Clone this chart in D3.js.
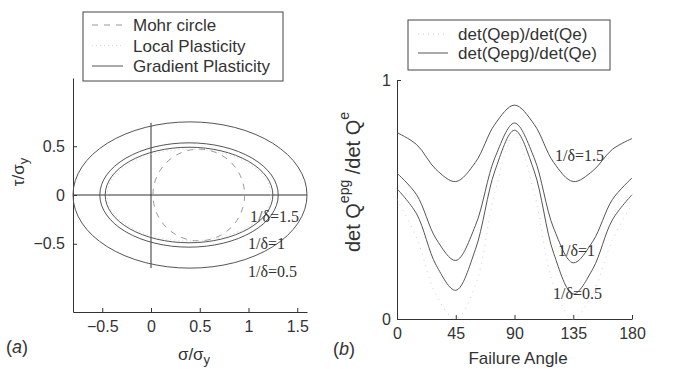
<!DOCTYPE html>
<html>
<head>
<meta charset="utf-8">
<script src="https://cdn.jsdelivr.net/npm/d3@7"></script>
<style>
  body { margin: 0; background: #fff; }
  svg { display: block; font-family: "Liberation Sans", Arial, sans-serif; }
  .axis path, .axis line { stroke: #333; }
  .axis text { fill: #333; font-size: 16px; font-family: "Liberation Sans", Arial, sans-serif; }
</style>
</head>
<body>
<div id="chart"></div>
<script>
// ---- panel (a): yield surfaces in stress space ----
const ellipseLabels = ["1/δ=0.5", "1/δ=1", "1/δ=1.5"];
const ellipseCx = [0.40, 0.39, 0.39];
const ellipseRx = [1.20, 0.915, 0.86];
const ellipseRy = [0.75, 0.535, 0.49];
const localCx = 0.39, localRx = 0.84, localRy = 0.47;
const mohrCx = 0.49, mohrR = 0.47;
const sigmaTicks = [-0.5, 0, 0.5, 1, 1.5];
const tauTicks = [-0.5, 0, 0.5];
const sigmaDomain = [-0.8, 1.6];
const tauDomain = [-1.2, 1.2];
const legendA = ["Mohr circle", "Local Plasticity", "Gradient Plasticity"];

// ---- panel (b): determinant ratio vs failure angle ----
const angles = [0, 15, 30, 45, 60, 75, 90, 105, 120, 135, 150, 165, 180];
const detLocal = [0.50, 0.34, 0.10, 0.00, 0.14, 0.53, 0.77, 0.53, 0.14, 0.00, 0.11, 0.33, 0.48];
const detGrad05 = [0.545, 0.44, 0.225, 0.12, 0.29, 0.62, 0.79, 0.62, 0.275, 0.105, 0.21, 0.415, 0.52];
const detGrad1 = [0.61, 0.52, 0.335, 0.245, 0.39, 0.675, 0.82, 0.675, 0.38, 0.235, 0.325, 0.50, 0.59];
const detGrad15 = [0.78, 0.73, 0.625, 0.575, 0.655, 0.815, 0.895, 0.815, 0.655, 0.575, 0.62, 0.71, 0.755];
const angleTicks = [0, 45, 90, 135, 180];
const detTicks = [0, 1];
const legendB = ["det(Qep)/det(Qe)", "det(Qepg)/det(Qe)"];

const W = 677, H = 369;
const curveColor = "#555";
const fmt = d => d === 0 ? "0" : d3.format("")(d).replace("-", "\u2212");

const svg = d3.select("#chart").append("svg")
    .attr("width", W)
    .attr("height", H);

// ================= panel (a) =================
const xa = d3.scaleLinear().domain(sigmaDomain).range([73, 307]);
const ya = d3.scaleLinear().domain(tauDomain).range([312, 78]);

const ga = svg.append("g");

// axes (left + bottom only, ticks pointing inward)
ga.append("g")
    .attr("class", "axis")
    .attr("transform", "translate(" + xa.range()[0] + ",0)")
    .call(d3.axisLeft(ya).tickValues(tauTicks).tickSizeInner(-4).tickSizeOuter(0).tickPadding(8)
        .tickFormat(fmt));

ga.append("g")
    .attr("class", "axis")
    .attr("transform", "translate(0," + ya.range()[0] + ")")
    .call(d3.axisBottom(xa).tickValues(sigmaTicks).tickSizeInner(-4).tickSizeOuter(0).tickPadding(9)
        .tickFormat(fmt));

// cross lines through the origin
ga.append("line")
    .attr("x1", xa(sigmaDomain[0])).attr("x2", xa(sigmaDomain[1]))
    .attr("y1", ya(0)).attr("y2", ya(0))
    .attr("stroke", "#333").attr("stroke-width", 1);
ga.append("line")
    .attr("x1", xa(0)).attr("x2", xa(0))
    .attr("y1", ya(0.74)).attr("y2", ya(-0.75))
    .attr("stroke", "#333").attr("stroke-width", 1);

// Mohr circle (dashed)
ga.append("ellipse")
    .attr("cx", xa(mohrCx)).attr("cy", ya(0))
    .attr("rx", xa(mohrCx + mohrR) - xa(mohrCx))
    .attr("ry", ya(0) - ya(mohrR))
    .attr("fill", "none")
    .attr("stroke", "#999")
    .attr("stroke-width", 1)
    .attr("stroke-dasharray", "6,6");

// local plasticity (faint dotted)
ga.append("ellipse")
    .attr("cx", xa(localCx)).attr("cy", ya(0))
    .attr("rx", xa(localCx + localRx) - xa(localCx))
    .attr("ry", ya(0) - ya(localRy))
    .attr("fill", "none")
    .attr("stroke", "#d0d0d0")
    .attr("stroke-width", 1)
    .attr("stroke-dasharray", "1,3");

// gradient plasticity ellipses
ga.selectAll(".ell")
    .data(ellipseLabels.map((l, i) => ({label: l, cx: ellipseCx[i], rx: ellipseRx[i], ry: ellipseRy[i]})))
    .enter().append("ellipse")
    .attr("class", "ell")
    .attr("cx", d => xa(d.cx)).attr("cy", ya(0))
    .attr("rx", d => xa(d.cx + d.rx) - xa(d.cx))
    .attr("ry", d => ya(0) - ya(d.ry))
    .attr("fill", "none")
    .attr("stroke", curveColor)
    .attr("stroke-width", 1);

// curve labels (a)
const labelPosA = [[248, 277], [248, 249], [250, 222]];
ellipseLabels.forEach((l, i) => {
    ga.append("text")
        .attr("x", labelPosA[i][0]).attr("y", labelPosA[i][1])
        .style("font-family", "'Liberation Serif', 'Times New Roman', serif")
        .style("font-size", "16px")
        .style("fill", "#333")
        .text(l);
});

// axis labels (a)
ga.append("text")
    .attr("transform", "translate(24,172) rotate(-90)")
    .style("text-anchor", "middle")
    .style("font-size", "17px")
    .style("fill", "#333")
    .html('τ/σ<tspan dy="4" font-size="13px">y</tspan>');

ga.append("text")
    .attr("x", 194).attr("y", 360)
    .style("text-anchor", "middle")
    .style("font-size", "17px")
    .style("fill", "#333")
    .html('σ/σ<tspan dy="4" font-size="13px">y</tspan>');

ga.append("text")
    .attr("x", 6).attr("y", 353)
    .style("font-size", "18px")
    .style("fill", "#333")
    .html('(<tspan font-style="italic">a</tspan>)');

// legend (a)
const lgA = ga.append("g");
lgA.append("rect")
    .attr("x", 83).attr("y", 12).attr("width", 200).attr("height", 69)
    .attr("fill", "#fff").attr("stroke", "#444").attr("stroke-width", 1);
const lgAStyles = [
    {stroke: "#999", dash: "6,6"},
    {stroke: "#d8d8d8", dash: "1,3"},
    {stroke: curveColor, dash: null}
];
legendA.forEach((t, i) => {
    const y = 25 + i * 20.5;
    lgA.append("line")
        .attr("x1", 92).attr("x2", 123).attr("y1", y).attr("y2", y)
        .attr("stroke", lgAStyles[i].stroke)
        .attr("stroke-width", 1)
        .attr("stroke-dasharray", lgAStyles[i].dash);
    lgA.append("text")
        .attr("x", 133).attr("y", y + 6)
        .style("font-size", "17px")
        .style("fill", "#333")
        .text(t);
});

// ================= panel (b) =================
const xb = d3.scaleLinear().domain([0, 180]).range([397, 632]);
const yb = d3.scaleLinear().domain([0, 1]).range([319, 80]);

const gb = svg.append("g");

gb.append("g")
    .attr("class", "axis")
    .attr("transform", "translate(" + xb.range()[0] + ",0)")
    .call(d3.axisLeft(yb).tickValues(detTicks).tickSizeInner(-4).tickSizeOuter(0).tickPadding(6)
        .tickFormat(d3.format("d")));

gb.append("g")
    .attr("class", "axis")
    .attr("transform", "translate(0," + yb.range()[0] + ")")
    .call(d3.axisBottom(xb).tickValues(angleTicks).tickSizeInner(-4).tickSizeOuter(0).tickPadding(9)
        .tickFormat(d3.format("d")));

const line = d3.line()
    .x(d => xb(d[0]))
    .y(d => yb(d[1]))
    .curve(d3.curveCatmullRom.alpha(0.5));

gb.append("path")
    .datum(angles.map((a, i) => [a, detLocal[i]]))
    .attr("d", line)
    .attr("fill", "none")
    .attr("stroke", "#d0d0d0")
    .attr("stroke-width", 1)
    .attr("stroke-dasharray", "1,5");

[detGrad05, detGrad1, detGrad15].forEach(series => {
    gb.append("path")
        .datum(angles.map((a, i) => [a, series[i]]))
        .attr("d", line)
        .attr("fill", "none")
        .attr("stroke", curveColor)
        .attr("stroke-width", 1);
});

// curve labels (b)
const labelPosB = [[553, 299], [558, 256], [555, 161]];
ellipseLabels.forEach((l, i) => {
    gb.append("text")
        .attr("x", labelPosB[i][0]).attr("y", labelPosB[i][1])
        .style("font-family", "'Liberation Serif', 'Times New Roman', serif")
        .style("font-size", "16px")
        .style("fill", "#333")
        .text(l);
});

// axis labels (b)
gb.append("text")
    .attr("transform", "translate(360,182) rotate(-90)")
    .style("text-anchor", "middle")
    .style("font-size", "20px")
    .style("fill", "#333")
    .html('det Q<tspan dy="-11" font-size="14px">epg</tspan><tspan dy="11"> /det Q</tspan><tspan dy="-11" font-size="14px">e</tspan>');

gb.append("text")
    .attr("x", 518).attr("y", 364)
    .style("text-anchor", "middle")
    .style("font-size", "17px")
    .style("fill", "#333")
    .text("Failure Angle");

gb.append("text")
    .attr("x", 333).attr("y", 355)
    .style("font-size", "18px")
    .style("fill", "#333")
    .html('(<tspan font-style="italic">b</tspan>)');

// legend (b)
const lgB = gb.append("g");
lgB.append("rect")
    .attr("x", 408).attr("y", 20).attr("width", 202).attr("height", 50)
    .attr("fill", "#fff").attr("stroke", "#444").attr("stroke-width", 1);
const lgBStyles = [
    {stroke: "#c8c8c8", dash: "1,4"},
    {stroke: curveColor, dash: null}
];
legendB.forEach((t, i) => {
    const y = 34 + i * 19;
    lgB.append("line")
        .attr("x1", 418).attr("x2", 448).attr("y1", y).attr("y2", y)
        .attr("stroke", lgBStyles[i].stroke)
        .attr("stroke-width", 1)
        .attr("stroke-dasharray", lgBStyles[i].dash);
    lgB.append("text")
        .attr("x", 458).attr("y", y + 6)
        .style("font-size", "17px")
        .style("fill", "#333")
        .text(t);
});
</script>
</body>
</html>
